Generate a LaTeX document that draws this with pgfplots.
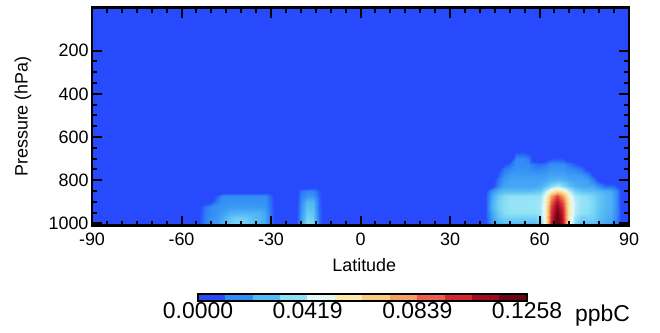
\documentclass[border=0pt]{standalone}
\usepackage{pgfplots}
\pgfplotsset{compat=1.18}
\usepackage{pgfplotstable}
\usepackage{fontspec}
\setmainfont{Liberation Sans}
\newcommand{\axfont}{\fontsize{18}{21}\selectfont}
\newcommand{\cbfont}{\fontsize{23}{27}\selectfont}
\definecolor{cbg}{RGB}{38,74,252}

% northern high-latitude patch (lat, pressure hPa, value ppbC)
\pgfplotstableread[row sep=\\]{
lat p v\\
42 650 0\\44 650 0\\46 650 0\\48 650 0\\50 650 0\\52 650 0\\54 650 0\\56 650 0\\58 650 0\\60 650 0\\62 650 0\\64 650 0\\66 650 0\\68 650 0\\70 650 0\\72 650 0\\74 650 0\\76 650 0\\78 650 0\\80 650 0\\82 650 0\\84 650 0\\86 650 0\\88 650 0\\
42 675 0\\44 675 0\\46 675 0\\48 675 0\\50 675 0\\52 675 0.008\\54 675 0.008\\56 675 0.006\\58 675 0\\60 675 0\\62 675 0\\64 675 0\\66 675 0\\68 675 0\\70 675 0\\72 675 0\\74 675 0\\76 675 0\\78 675 0\\80 675 0\\82 675 0\\84 675 0\\86 675 0\\88 675 0\\
42 700 0\\44 700 0\\46 700 0\\48 700 0\\50 700 0\\52 700 0.016\\54 700 0.016\\56 700 0.014\\58 700 0\\60 700 0\\62 700 0\\64 700 0.007\\66 700 0.008\\68 700 0.007\\70 700 0\\72 700 0\\74 700 0\\76 700 0\\78 700 0\\80 700 0\\82 700 0\\84 700 0\\86 700 0\\88 700 0\\
42 725 0\\44 725 0\\46 725 0\\48 725 0.005\\50 725 0.010\\52 725 0.016\\54 725 0.016\\56 725 0.016\\58 725 0.012\\60 725 0.010\\62 725 0.012\\64 725 0.016\\66 725 0.016\\68 725 0.016\\70 725 0.012\\72 725 0.008\\74 725 0.004\\76 725 0\\78 725 0\\80 725 0\\82 725 0\\84 725 0\\86 725 0\\88 725 0\\
42 750 0\\44 750 0\\46 750 0.003\\48 750 0.012\\50 750 0.015\\52 750 0.017\\54 750 0.017\\56 750 0.017\\58 750 0.015\\60 750 0.015\\62 750 0.016\\64 750 0.018\\66 750 0.018\\68 750 0.018\\70 750 0.016\\72 750 0.015\\74 750 0.012\\76 750 0.005\\78 750 0\\80 750 0\\82 750 0\\84 750 0\\86 750 0\\88 750 0\\
42 775 0\\44 775 0\\46 775 0.008\\48 775 0.016\\50 775 0.019\\52 775 0.019\\54 775 0.019\\56 775 0.019\\58 775 0.019\\60 775 0.019\\62 775 0.019\\64 775 0.021\\66 775 0.021\\68 775 0.021\\70 775 0.019\\72 775 0.019\\74 775 0.019\\76 775 0.015\\78 775 0.006\\80 775 0\\82 775 0\\84 775 0\\86 775 0\\88 775 0\\
42 800 0\\44 800 0\\46 800 0.012\\48 800 0.019\\50 800 0.021\\52 800 0.021\\54 800 0.021\\56 800 0.021\\58 800 0.021\\60 800 0.021\\62 800 0.022\\64 800 0.025\\66 800 0.026\\68 800 0.025\\70 800 0.022\\72 800 0.021\\74 800 0.021\\76 800 0.021\\78 800 0.014\\80 800 0.004\\82 800 0\\84 800 0\\86 800 0\\88 800 0\\
42 825 0\\44 825 0.004\\46 825 0.014\\48 825 0.021\\50 825 0.022\\52 825 0.022\\54 825 0.022\\56 825 0.022\\58 825 0.022\\60 825 0.024\\62 825 0.028\\64 825 0.035\\66 825 0.040\\68 825 0.035\\70 825 0.028\\72 825 0.024\\74 825 0.022\\76 825 0.022\\78 825 0.022\\80 825 0.016\\82 825 0.010\\84 825 0.010\\86 825 0.006\\88 825 0\\
42 850 0.006\\44 850 0.018\\46 850 0.024\\48 850 0.027\\50 850 0.027\\52 850 0.027\\54 850 0.027\\56 850 0.027\\58 850 0.028\\60 850 0.030\\62 850 0.040\\64 850 0.055\\66 850 0.065\\68 850 0.055\\70 850 0.042\\72 850 0.032\\74 850 0.029\\76 850 0.028\\78 850 0.027\\80 850 0.026\\82 850 0.024\\84 850 0.022\\86 850 0.014\\88 850 0\\
42 875 0.008\\44 875 0.022\\46 875 0.030\\48 875 0.035\\50 875 0.037\\52 875 0.037\\54 875 0.037\\56 875 0.037\\58 875 0.037\\60 875 0.038\\62 875 0.048\\64 875 0.078\\66 875 0.095\\68 875 0.078\\70 875 0.052\\72 875 0.040\\74 875 0.037\\76 875 0.036\\78 875 0.033\\80 875 0.029\\82 875 0.026\\84 875 0.024\\86 875 0.015\\88 875 0\\
42 900 0.008\\44 900 0.024\\46 900 0.032\\48 900 0.036\\50 900 0.038\\52 900 0.038\\54 900 0.038\\56 900 0.038\\58 900 0.038\\60 900 0.040\\62 900 0.050\\64 900 0.088\\66 900 0.107\\68 900 0.090\\70 900 0.055\\72 900 0.042\\74 900 0.038\\76 900 0.037\\78 900 0.034\\80 900 0.029\\82 900 0.026\\84 900 0.024\\86 900 0.015\\88 900 0\\
42 925 0.008\\44 925 0.024\\46 925 0.032\\48 925 0.036\\50 925 0.038\\52 925 0.038\\54 925 0.038\\56 925 0.038\\58 925 0.038\\60 925 0.040\\62 925 0.052\\64 925 0.094\\66 925 0.114\\68 925 0.096\\70 925 0.056\\72 925 0.042\\74 925 0.038\\76 925 0.037\\78 925 0.034\\80 925 0.029\\82 925 0.026\\84 925 0.024\\86 925 0.015\\88 925 0\\
42 950 0.008\\44 950 0.022\\46 950 0.030\\48 950 0.035\\50 950 0.037\\52 950 0.037\\54 950 0.037\\56 950 0.037\\58 950 0.037\\60 950 0.039\\62 950 0.052\\64 950 0.098\\66 950 0.120\\68 950 0.100\\70 950 0.056\\72 950 0.041\\74 950 0.037\\76 950 0.036\\78 950 0.033\\80 950 0.028\\82 950 0.025\\84 950 0.023\\86 950 0.015\\88 950 0\\
42 975 0.007\\44 975 0.020\\46 975 0.028\\48 975 0.032\\50 975 0.032\\52 975 0.032\\54 975 0.032\\56 975 0.032\\58 975 0.032\\60 975 0.036\\62 975 0.052\\64 975 0.100\\66 975 0.124\\68 975 0.102\\70 975 0.056\\72 975 0.038\\74 975 0.032\\76 975 0.032\\78 975 0.032\\80 975 0.027\\82 975 0.024\\84 975 0.022\\86 975 0.014\\88 975 0\\
42 1000 0.006\\44 1000 0.018\\46 1000 0.024\\48 1000 0.027\\50 1000 0.027\\52 1000 0.027\\54 1000 0.027\\56 1000 0.027\\58 1000 0.027\\60 1000 0.032\\62 1000 0.050\\64 1000 0.102\\66 1000 0.1258\\68 1000 0.104\\70 1000 0.055\\72 1000 0.034\\74 1000 0.028\\76 1000 0.028\\78 1000 0.028\\80 1000 0.025\\82 1000 0.022\\84 1000 0.020\\86 1000 0.012\\88 1000 0\\
42 1025 0.006\\44 1025 0.018\\46 1025 0.024\\48 1025 0.027\\50 1025 0.027\\52 1025 0.027\\54 1025 0.027\\56 1025 0.027\\58 1025 0.027\\60 1025 0.032\\62 1025 0.050\\64 1025 0.102\\66 1025 0.1258\\68 1025 0.104\\70 1025 0.055\\72 1025 0.034\\74 1025 0.028\\76 1025 0.028\\78 1025 0.028\\80 1025 0.025\\82 1025 0.022\\84 1025 0.020\\86 1025 0.012\\88 1025 0\\
}\north

% southern mid-latitude patch
\pgfplotstableread[row sep=\\]{
lat p v\\
-58 825 0\\-56 825 0\\-54 825 0\\-52 825 0\\-50 825 0\\-48 825 0\\-46 825 0\\-44 825 0\\-42 825 0\\-40 825 0\\-38 825 0\\-36 825 0\\-34 825 0\\-32 825 0\\-30 825 0\\-28 825 0\\-26 825 0\\
-58 850 0\\-56 850 0\\-54 850 0\\-52 850 0\\-50 850 0\\-48 850 0\\-46 850 0\\-44 850 0\\-42 850 0\\-40 850 0\\-38 850 0\\-36 850 0\\-34 850 0\\-32 850 0\\-30 850 0\\-28 850 0\\-26 850 0\\
-58 875 0\\-56 875 0\\-54 875 0\\-52 875 0\\-50 875 0.003\\-48 875 0.009\\-46 875 0.016\\-44 875 0.016\\-42 875 0.016\\-40 875 0.016\\-38 875 0.016\\-36 875 0.016\\-34 875 0.016\\-32 875 0.016\\-30 875 0.009\\-28 875 0\\-26 875 0\\
-58 900 0\\-56 900 0\\-54 900 0\\-52 900 0.003\\-50 900 0.006\\-48 900 0.014\\-46 900 0.017\\-44 900 0.017\\-42 900 0.017\\-40 900 0.017\\-38 900 0.017\\-36 900 0.017\\-34 900 0.017\\-32 900 0.017\\-30 900 0.010\\-28 900 0\\-26 900 0\\
-58 925 0\\-56 925 0\\-54 925 0.004\\-52 925 0.012\\-50 925 0.016\\-48 925 0.017\\-46 925 0.018\\-44 925 0.019\\-42 925 0.019\\-40 925 0.019\\-38 925 0.019\\-36 925 0.019\\-34 925 0.019\\-32 925 0.018\\-30 925 0.010\\-28 925 0\\-26 925 0\\
-58 950 0\\-56 950 0\\-54 950 0.005\\-52 950 0.013\\-50 950 0.016\\-48 950 0.017\\-46 950 0.020\\-44 950 0.024\\-42 950 0.025\\-40 950 0.025\\-38 950 0.025\\-36 950 0.025\\-34 950 0.025\\-32 950 0.021\\-30 950 0.011\\-28 950 0\\-26 950 0\\
-58 975 0\\-56 975 0\\-54 975 0.005\\-52 975 0.014\\-50 975 0.017\\-48 975 0.019\\-46 975 0.023\\-44 975 0.028\\-42 975 0.031\\-40 975 0.031\\-38 975 0.030\\-36 975 0.027\\-34 975 0.026\\-32 975 0.022\\-30 975 0.011\\-28 975 0\\-26 975 0\\
-58 1000 0\\-56 1000 0\\-54 1000 0.005\\-52 1000 0.014\\-50 1000 0.017\\-48 1000 0.020\\-46 1000 0.025\\-44 1000 0.030\\-42 1000 0.033\\-40 1000 0.033\\-38 1000 0.031\\-36 1000 0.028\\-34 1000 0.026\\-32 1000 0.022\\-30 1000 0.011\\-28 1000 0\\-26 1000 0\\
-58 1025 0\\-56 1025 0\\-54 1025 0.005\\-52 1025 0.014\\-50 1025 0.017\\-48 1025 0.020\\-46 1025 0.025\\-44 1025 0.030\\-42 1025 0.033\\-40 1025 0.033\\-38 1025 0.031\\-36 1025 0.028\\-34 1025 0.026\\-32 1025 0.022\\-30 1025 0.011\\-28 1025 0\\-26 1025 0\\
}\south

% narrow subtropical column
\pgfplotstableread[row sep=\\]{
lat p v\\
-22 825 0\\-20 825 0\\-18 825 0\\-16 825 0\\-14 825 0\\-12 825 0\\
-22 850 0\\-20 850 0.012\\-18 850 0.015\\-16 850 0.015\\-14 850 0.008\\-12 850 0\\
-22 875 0\\-20 875 0.014\\-18 875 0.018\\-16 875 0.018\\-14 875 0.009\\-12 875 0\\
-22 900 0\\-20 900 0.016\\-18 900 0.026\\-16 900 0.025\\-14 900 0.010\\-12 900 0\\
-22 925 0\\-20 925 0.017\\-18 925 0.028\\-16 925 0.027\\-14 925 0.010\\-12 925 0\\
-22 950 0\\-20 950 0.018\\-18 950 0.030\\-16 950 0.029\\-14 950 0.011\\-12 950 0\\
-22 975 0\\-20 975 0.019\\-18 975 0.033\\-16 975 0.031\\-14 975 0.011\\-12 975 0\\
-22 1000 0\\-20 1000 0.020\\-18 1000 0.036\\-16 1000 0.034\\-14 1000 0.012\\-12 1000 0\\
-22 1025 0\\-20 1025 0.020\\-18 1025 0.036\\-16 1025 0.034\\-14 1025 0.012\\-12 1025 0\\
}\column

% colour bar: 12 discrete levels between 0 and 0.1258 ppbC (meta = level midpoint)
\pgfplotstableread[row sep=\\]{
x y v\\
0 0 0.00524\\0.010483 0 0.01572\\0.020967 0 0.02621\\0.03145 0 0.03669\\0.041933 0 0.04717\\0.052417 0 0.05766\\0.0629 0 0.06814\\0.073383 0 0.07862\\0.083867 0 0.08911\\0.09435 0 0.09959\\0.104833 0 0.11008\\0.115317 0 0.12056\\0.1258 0 0.1258\\
0 1 0.00524\\0.010483 1 0.01572\\0.020967 1 0.02621\\0.03145 1 0.03669\\0.041933 1 0.04717\\0.052417 1 0.05766\\0.0629 1 0.06814\\0.073383 1 0.07862\\0.083867 1 0.08911\\0.09435 1 0.09959\\0.104833 1 0.11008\\0.115317 1 0.12056\\0.1258 1 0.1258\\
}\cbar

\pgfplotsset{
  colormap={smoothmap}{
    rgb255(0cm)=(38,74,252) rgb255(0.5cm)=(38,74,252)
    rgb255(1.5cm)=(50,140,245)
    rgb255(2.5cm)=(85,185,245)
    rgb255(3.5cm)=(140,225,245)
    rgb255(4.5cm)=(228,248,250)
    rgb255(5.5cm)=(250,235,170)
    rgb255(6.5cm)=(250,205,130)
    rgb255(7.5cm)=(245,160,100)
    rgb255(8.5cm)=(235,95,75)
    rgb255(9.5cm)=(210,40,50)
    rgb255(10.5cm)=(160,10,35)
    rgb255(11.5cm)=(105,5,20) rgb255(12cm)=(105,5,20)
  },
}

\begin{document}
\begin{tikzpicture}
\useasboundingbox (-92bp,-107.5bp) rectangle (568bp,225.5bp);
\begin{axis}[
  at={(0,0)}, anchor=south west,
  scale only axis, width=537bp, height=218bp,
  xmin=-90, xmax=90, ymin=0, ymax=1010, y dir=reverse,
  xtick={-90,-60,...,90}, ytick={200,400,...,1000},
  minor x tick num=5, minor y tick num=3,
  tick align=inside, axis on top,
  major tick length=10bp, minor tick length=5bp,
  every tick/.style={black, line width=2bp},
  axis line style={line width=2.5bp},
  axis background/.style={fill=cbg},
  tick label style={font=\axfont},
  label style={font=\axfont},
  /pgf/number format/assume math mode=true,
  /pgf/number format/1000 sep={},
  xticklabel style={yshift=-4bp},
  xlabel={Latitude}, ylabel={Pressure (hPa)},
  xlabel style={at={(axis description cs:0.507,-0.183)}, anchor=center},
  ylabel style={at={(axis description cs:-0.1285,0.5)}, anchor=center},
  colormap name=smoothmap,
  point meta min=0, point meta max=0.1258,
]
\addplot[surf, shader=interp, mesh/cols=24, point meta=explicit] table[x=lat, y=p, meta=v] {\north};
\addplot[surf, shader=interp, mesh/cols=17, point meta=explicit] table[x=lat, y=p, meta=v] {\south};
\addplot[surf, shader=interp, mesh/cols=6, point meta=explicit] table[x=lat, y=p, meta=v] {\column};
\end{axis}
% horizontal colour bar
\begin{axis}[
  at={(106bp,-68bp)}, anchor=north west,
  scale only axis, width=329bp, height=7bp,
  xmin=0, xmax=0.1258, ymin=0, ymax=1,
  ytick=\empty,
  xtick={0,0.0419,0.0839,0.1258},
  xticklabels={0.0000,0.0419,0.0839,0.1258},
  major tick length=0pt, axis on top,
  axis line style={line width=2bp},
  tick label style={font=\cbfont},
  xticklabel style={yshift=2bp},
  colormap name=smoothmap,
  point meta min=0, point meta max=0.1258,
]
\addplot[surf, shader=flat corner, mesh/cols=13, point meta=explicit] table[x=x, y=y, meta=v] {\cbar};
\end{axis}
\node[anchor=base west, inner sep=0pt, font=\cbfont] at (483bp,-95.5bp) {ppbC};
\end{tikzpicture}
\end{document}
